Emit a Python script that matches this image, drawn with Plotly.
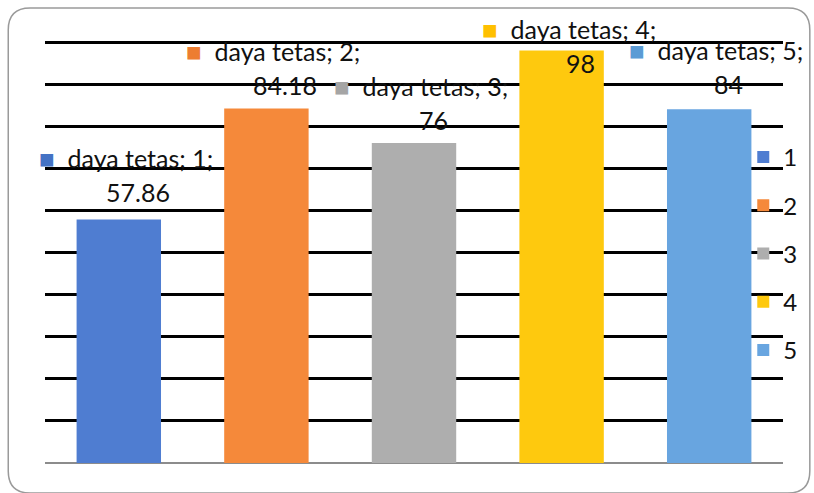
import plotly.graph_objects as go

# Chart data
categories = ["1", "2", "3", "4", "5"]
values = [57.86, 84.18, 76, 98, 84]
value_labels = ["57.86", "84.18", "76", "98", "84"]
series_name = "daya tetas"
y_ticks = list(range(0, 101, 10))

# Styling
bar_colors = ["#4F7DD1", "#F5893A", "#AEAEAE", "#FEC90E", "#68A5E0"]
key_colors = ["#4472C4", "#ED7D31", "#A5A5A5", "#FFC000", "#5B9BD5"]
FONT = "Lato"
TEXT_COLOR = "#111111"
FONT_SIZE = 25

# Label placement (pixels): lift of the name line above each bar top
name_lift = [61, 58, 57, 21, 59]
value_drop = 34
name_xshift = -82
value_xshift = 19

W, H = 814, 493
M = dict(l=45, r=26, t=40, b=30)
Y_TOP = 100.475  # leaves room for the gridline at 100

fig = go.Figure()
for cat, val, col in zip(categories, values, bar_colors):
    fig.add_trace(go.Bar(
        x=[cat], y=[val], name=cat, legendgroup=cat,
        marker=dict(color=col, line=dict(width=0)),
        width=0.572, hoverinfo="skip",
    ))

# Data labels: legend key + series name + category, value on the next line.
# Positions on the category axis are given by index.
annotations = []
for idx, (cat, val, lab, key, lift) in enumerate(
        zip(categories, values, value_labels, key_colors, name_lift)):
    annotations.append(dict(
        x=idx, y=val, xref="x", yref="y", showarrow=False,
        xanchor="left", yanchor="middle", xshift=name_xshift, yshift=lift,
        text=f'<span style="color:{key};font-size:26px">■</span>\u00a0\u00a0{series_name}; {cat};',
        font=dict(family=FONT, size=FONT_SIZE, color=TEXT_COLOR),
    ))
    annotations.append(dict(
        x=idx, y=val, xref="x", yref="y", showarrow=False,
        xanchor="center", yanchor="middle", xshift=value_xshift, yshift=lift - value_drop,
        text=lab,
        font=dict(family=FONT, size=FONT_SIZE, color=TEXT_COLOR),
    ))

# Rounded chart border, drawn in paper coordinates converted from pixels
pw = W - M["l"] - M["r"]
ph = H - M["t"] - M["b"]
def px(x):
    return (x - M["l"]) / pw
def py(y):
    return (H - M["b"] - y) / ph

bl, bt, br, bb, r = 8, 8, 815, 493, 22
path = (
    f"M {px(bl + r)},{py(bt)} L {px(br - r)},{py(bt)} "
    f"Q {px(br)},{py(bt)} {px(br)},{py(bt + r)} "
    f"L {px(br)},{py(bb - r)} Q {px(br)},{py(bb)} {px(br - r)},{py(bb)} "
    f"L {px(bl + r)},{py(bb)} Q {px(bl)},{py(bb)} {px(bl)},{py(bb - r)} "
    f"L {px(bl)},{py(bt + r)} Q {px(bl)},{py(bt)} {px(bl + r)},{py(bt)} Z"
)

fig.update_layout(
    width=W, height=H, margin=M,
    paper_bgcolor="white", plot_bgcolor="white",
    barmode="overlay",
    showlegend=True,
    legend=dict(
        x=px(748), xanchor="left", y=py(135), yanchor="top",
        traceorder="grouped", tracegroupgap=14,
        bgcolor="rgba(0,0,0,0)",
        font=dict(family=FONT, size=24, color=TEXT_COLOR),
    ),
    annotations=annotations,
    shapes=[dict(type="path", path=path, xref="paper", yref="paper",
                 line=dict(color="#9a9a9a", width=1.5), layer="below")],
    font=dict(family=FONT),
)
fig.update_xaxes(type="category", categoryorder="array", categoryarray=categories,
                 range=[-0.5, len(categories) - 0.5],
                 showticklabels=False, showgrid=False, ticks="",
                 showline=False)
fig.update_yaxes(range=[0, Y_TOP], tickvals=y_ticks, showticklabels=False, ticks="",
                 showgrid=True, gridcolor="black", gridwidth=2.5,
                 zeroline=True, zerolinecolor="#8c8c8c", zerolinewidth=2,
                 showline=False)

fig.write_html("out.html")
